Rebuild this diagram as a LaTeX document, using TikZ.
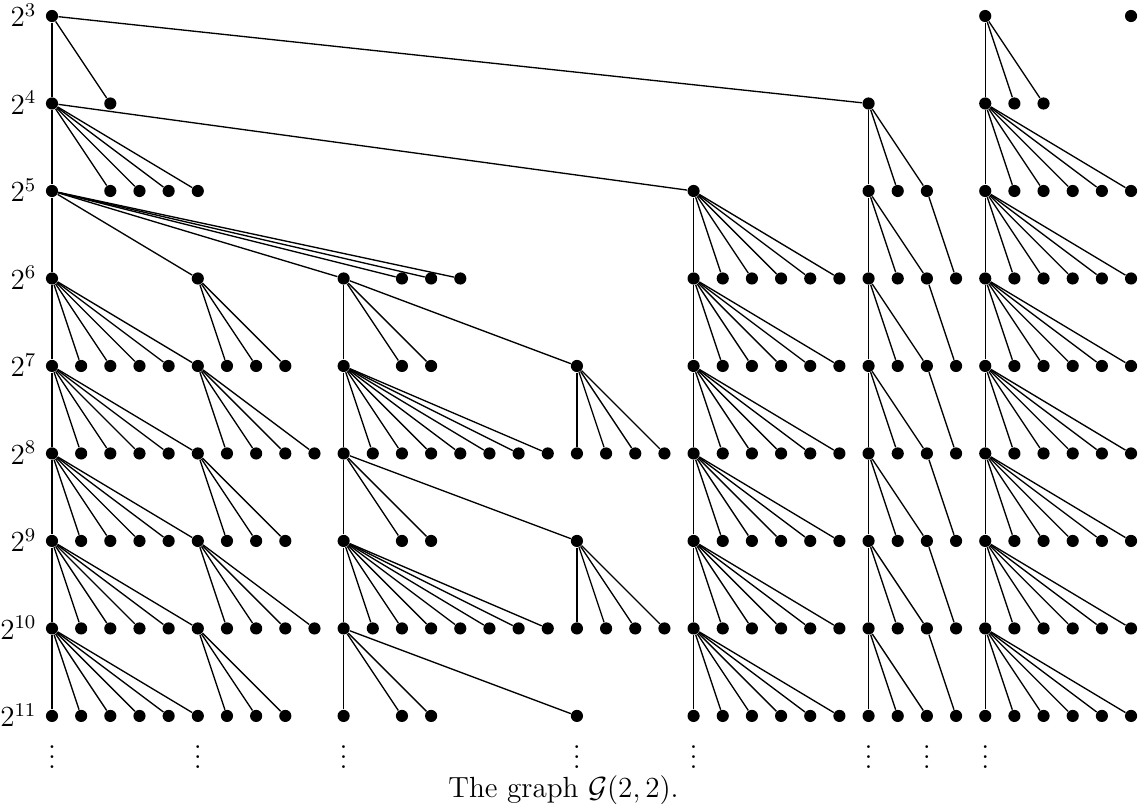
\documentclass[12pt,tikz,border=0pt]{standalone}
\usepackage{amsmath}
\usepackage{amsfonts}
\begin{document}
\begin{tikzpicture}[x=12pt,y=-36pt,
  dot/.style={circle,fill=black,inner sep=0pt,minimum size=5pt},
  edge/.style={line width=0.55pt}]
\useasboundingbox (-1.783,-0.183) rectangle (37.41,9.0);

% vertices, row by row
\foreach \r/\cols in {3/{0,32,37},
    4/{0,2,28,32,33,34},
    5/{0,2,3,4,5,22,28,29,30,32,33,...,37},
    6/{0,5,10,12,13,14,22,23,...,37},
    7/{0,1,...,8,10,12,13,18,22,23,...,37},
    8/{0,1,...,37},
    9/{0,1,...,8,10,12,13,18,22,23,...,37},
    10/{0,1,...,37},
    11/{0,1,...,8,10,12,13,18,22,23,...,37}}
  \foreach \c in \cols
    \node[dot] (n\c-\r) at (\c,\r-3) {};

% top rows
\foreach \r/\a/\bs in {3/0/{0,2,28}, 3/32/{32,33,34},
    4/0/{0,2,3,4,5,22}, 4/28/{28,29,30}, 4/32/{32,...,37},
    5/0/{0,5,10,12,13,14}}
  { \pgfmathtruncatemacro\s{\r+1}
    \foreach \b in \bs \draw[edge] (n\a-\r) -- (n\b-\s); }

% right part, the same in every row
\foreach \r in {5,...,10} {
  \pgfmathtruncatemacro\s{\r+1}
  \foreach \a/\bs in {22/{22,...,27},28/{28,29,30},30/{31},32/{32,...,37}}
    \foreach \b in \bs \draw[edge] (n\a-\r) -- (n\b-\s);
}

% left part
\foreach \r in {6,...,10} {
  \pgfmathtruncatemacro\s{\r+1}
  \foreach \b in {0,...,5} \draw[edge] (n0-\r) -- (n\b-\s);
}
\foreach \r in {6,8,10} {
  \pgfmathtruncatemacro\s{\r+1}
  \foreach \a/\bs in {5/{6,7,8},10/{10,12,13,18}}
    \foreach \b in \bs \draw[edge] (n\a-\r) -- (n\b-\s);
}
\foreach \r in {7,9} {
  \pgfmathtruncatemacro\s{\r+1}
  \foreach \a/\bs in {5/{6,...,9},10/{10,...,17},18/{18,...,21}}
    \foreach \b in \bs \draw[edge] (n\a-\r) -- (n\b-\s);
}

% levels
\foreach \r in {3,...,11}
  \node[anchor=base east,inner sep=0pt] (l\r) at (-0.514,\r-3+0.125) {$2^{\r}$};

\foreach \c in {0,5,10,18,22,28,30,32}
  \node[anchor=base,inner sep=0pt] (v\c) at (\c,8.60) {$\vdots$};

\node[anchor=base,inner sep=0pt] (cap) at (17.54,8.93) {The graph $\mathcal{G}(2,2)$.};
\end{tikzpicture}
\end{document}
